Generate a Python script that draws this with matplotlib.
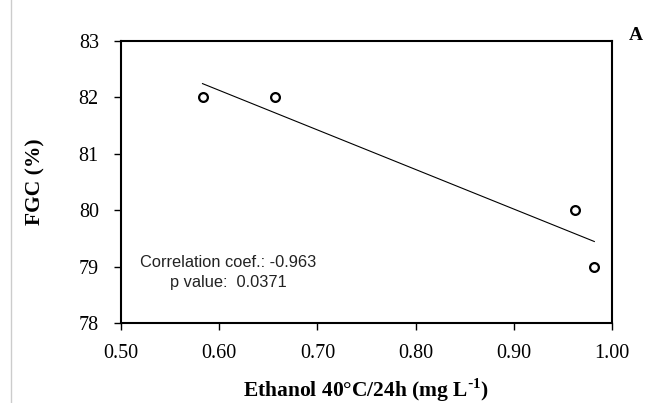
import numpy as np
import matplotlib.pyplot as plt
from matplotlib.lines import Line2D

# Ethanol at 40C/24h (mg/L) vs FGC (%)
ethanol = [0.583, 0.657, 0.962, 0.982]
fgc = [82, 82, 80, 79]
x_ticks = [0.50, 0.60, 0.70, 0.80, 0.90, 1.00]
y_ticks = [78, 79, 80, 81, 82, 83]

fig = plt.figure(figsize=(6.62, 4.03), dpi=100)
ax = fig.add_axes([121 / 662, 1 - 323 / 403, (612 - 121) / 662, (323 - 41) / 403])

# linear trend line over the data range
slope, intercept = np.polyfit(ethanol, fgc, 1)
xl = np.array([min(ethanol), max(ethanol)])
ax.plot(xl, slope * xl + intercept, color='black', lw=0.8)

ax.scatter(ethanol, fgc, s=40, facecolors='white', edgecolors='black', linewidths=1.6, zorder=3)

ax.set_xlim(0.5, 1.0)
ax.set_ylim(78, 83)
ax.set_xticks(x_ticks)
ax.set_xticklabels(['%.2f' % v for v in x_ticks])
ax.set_yticks(y_ticks)

serif = ['Liberation Serif', 'DejaVu Serif']
for lab in ax.get_xticklabels() + ax.get_yticklabels():
    lab.set_family(serif)
    lab.set_fontsize(14.5)
ax.tick_params(direction='out', length=5, width=1)
ax.tick_params(axis='x', pad=10)
ax.tick_params(axis='y', pad=11)
for s in ax.spines.values():
    s.set_linewidth(1.5)

ax.set_xlabel('Ethanol 40°C/24h (mg L$^{\\mathregular{\\text{-}1}}$)', family=serif, fontsize=15.5,
              fontweight='bold', labelpad=10)
ax.set_ylabel('FGC (%)', family=serif, fontsize=15.5, fontweight='bold', labelpad=24)

ax.text(0.039, 0.213, 'Correlation coef.: -0.963', transform=ax.transAxes,
        family='Liberation Sans', fontsize=11.8, color='#222222', va='center')
ax.text(0.1, 0.145, 'p value:  0.0371', transform=ax.transAxes,
        family='Liberation Sans', fontsize=11.8, color='#222222', va='center')

fig.text(636 / 662, 1 - 35 / 403, 'A', family=serif, fontsize=14, fontweight='bold',
         ha='center', va='center')

# faint border line at the left of the figure
fig.add_artist(Line2D([11 / 662, 11 / 662], [0, 1], color='#cccccc', lw=1))

plt.savefig('out.png', dpi=100)
